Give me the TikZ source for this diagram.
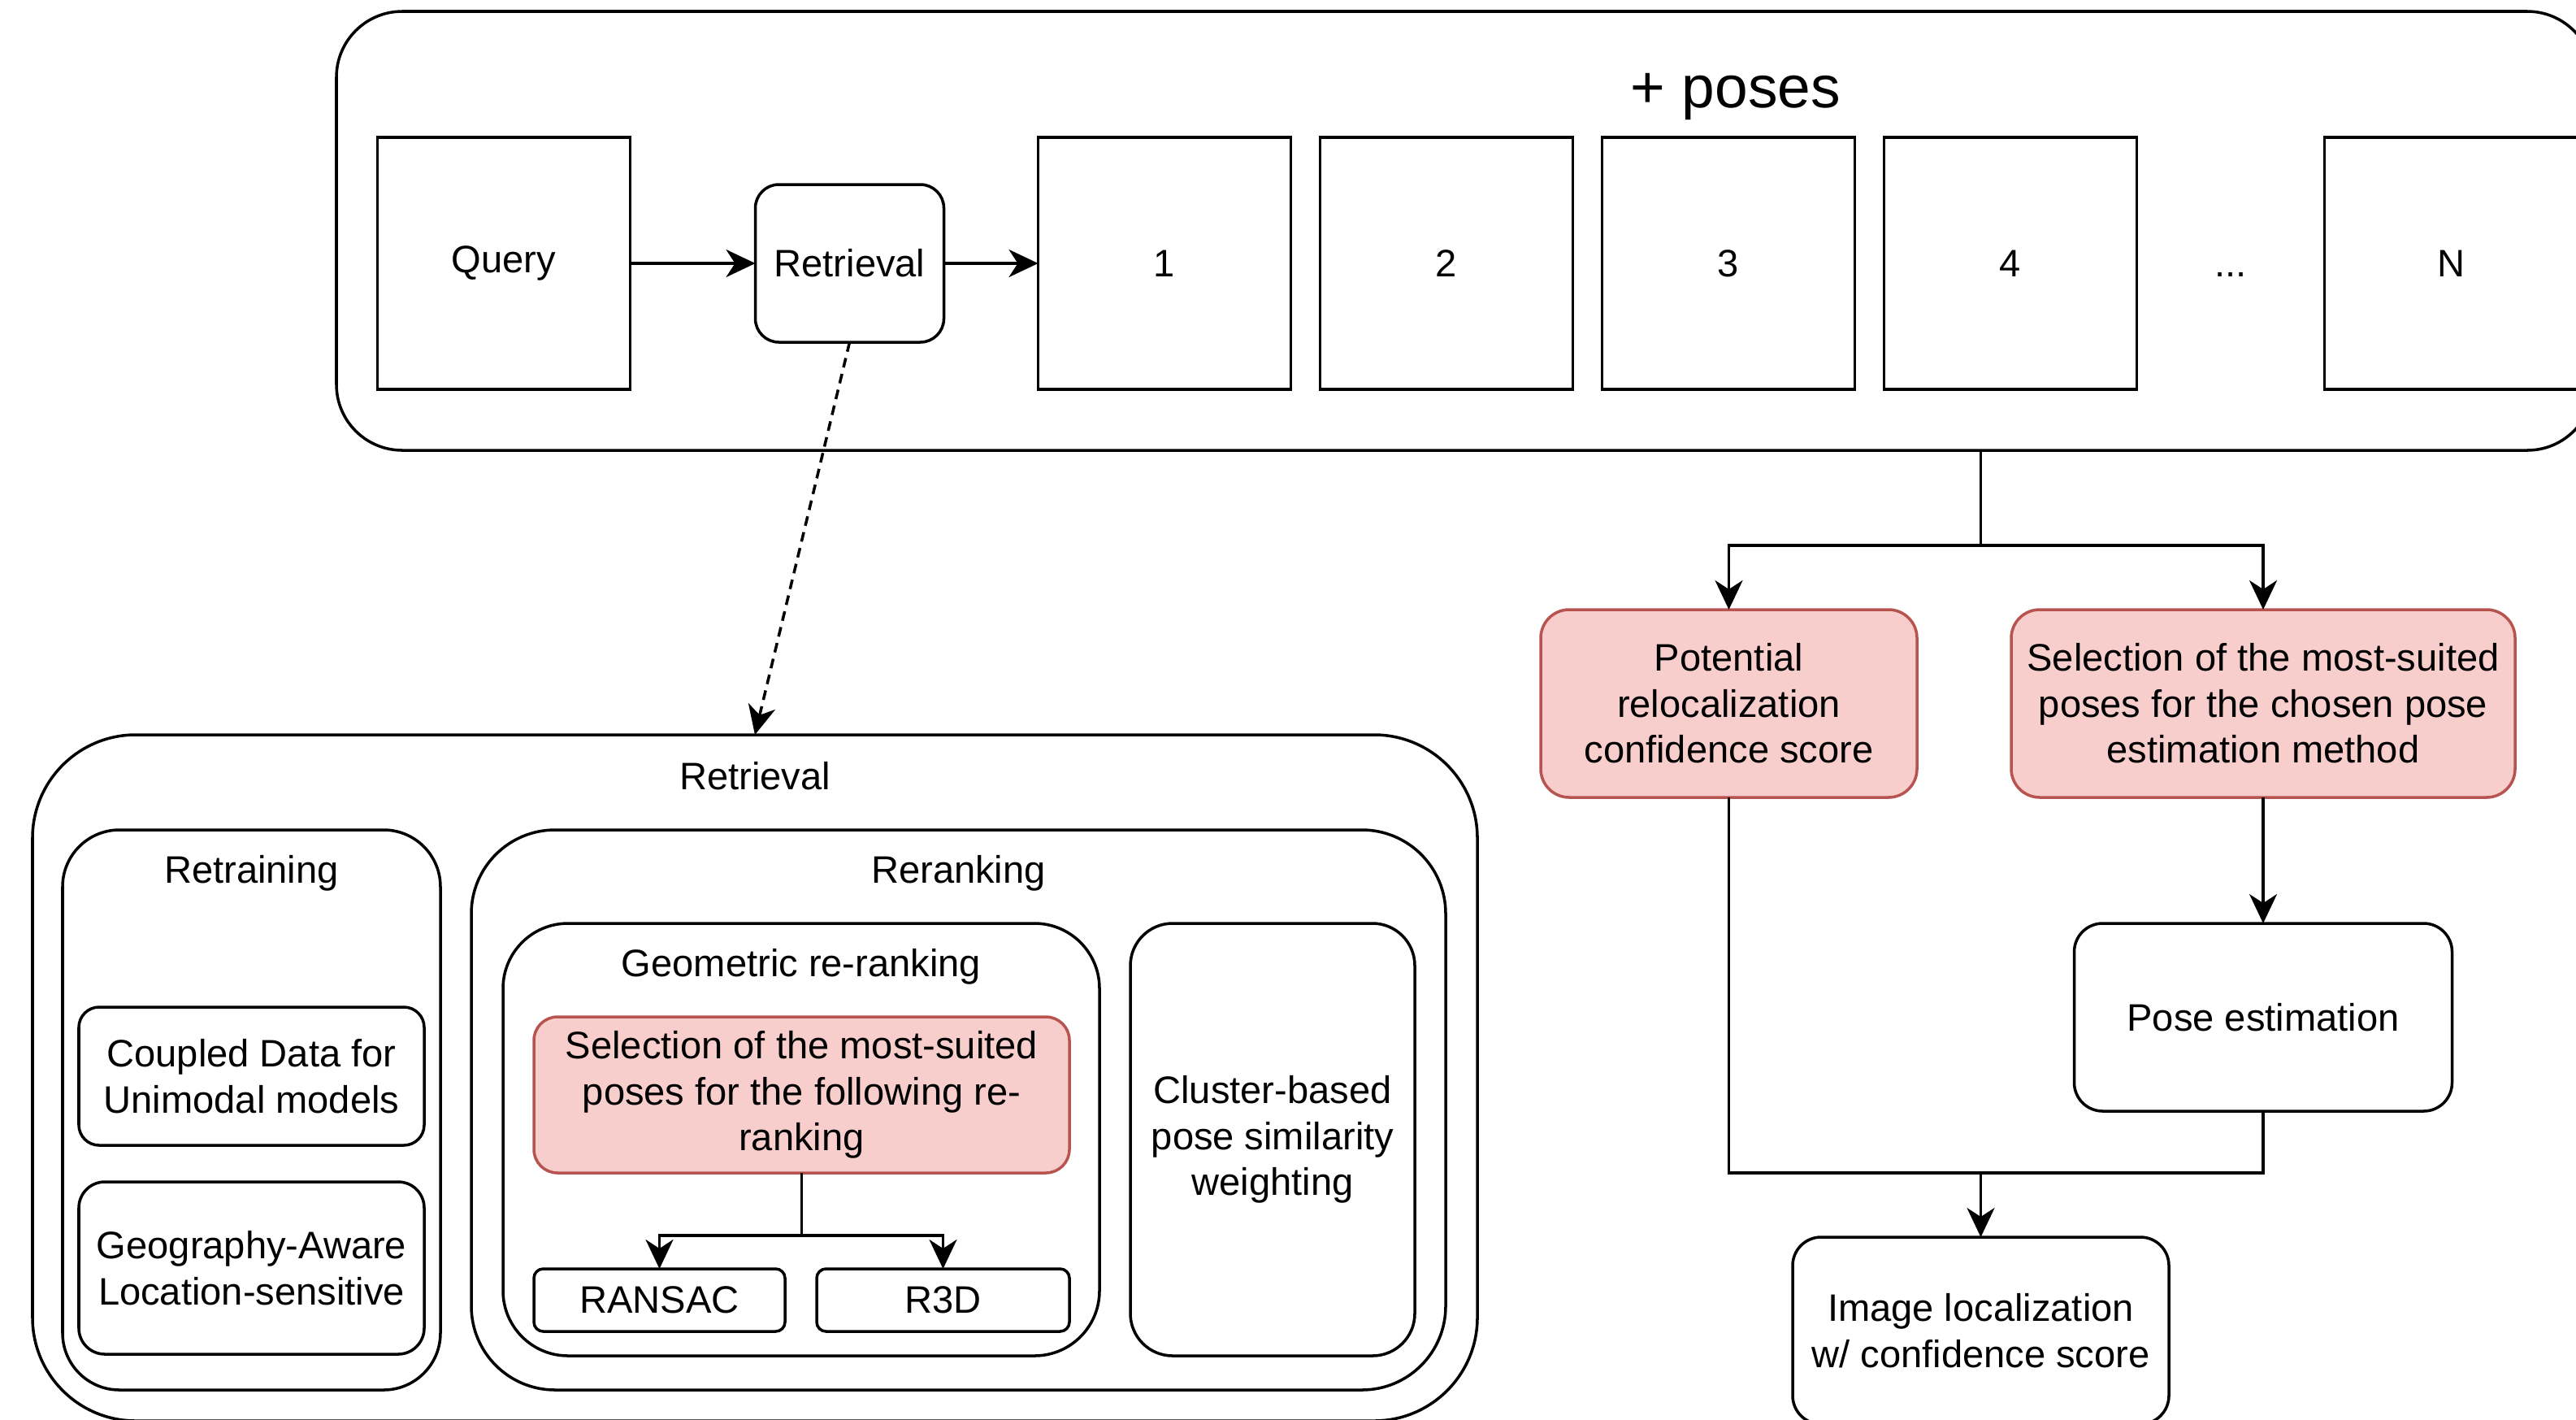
\documentclass[tikz,border=0pt]{standalone}
\usepackage{fontspec}
\setmainfont{Liberation Sans}
\usetikzlibrary{positioning,arrows.meta}
\definecolor{pinkfill}{HTML}{F8CECC}
\definecolor{pinkline}{HTML}{B85450}

\begin{document}
\begin{tikzpicture}[
every node/.style={font=\fontsize{13.4}{16.1}\selectfont},
box/.style={draw,rectangle,line width=1pt,inner sep=0pt,outer sep=0pt,align=center},
rbox/.style={box,rounded corners=#1},
cand/.style={box,minimum width=3.11cm,minimum height=3.10cm},
hl/.style={fill=pinkfill,draw=pinkline},
conn/.style={line width=1pt},
arr/.style={conn,-{Stealth[length=3.6mm,width=3.4mm,inset=1.1mm]}}]
\useasboundingbox (0,0) rectangle (31.70,-17.46);
\clip (0,0) rectangle (31.70,-17.46);

\node (posebox) [rbox=0.81cm,minimum width=27.77cm,minimum height=5.40cm] at (18.025,-2.84) {};
\node [anchor=base,font=\fontsize{20.8}{25}\selectfont] at (21.36,-1.32) {+ poses};
\node (query) [cand] at (6.20,-3.24) {Query};
\node (qret) [rbox=0.29cm,minimum width=2.32cm,minimum height=1.94cm,
    right=1.54cm of query] {Retrieval};
\node (c1) [cand,right=1.16cm of qret] {1};
\node (c2) [cand,right=0.36cm of c1] {2};
\node (c3) [cand,right=0.36cm of c2] {3};
\node (c4) [cand,right=0.36cm of c3] {4};
\node (cN) [cand,right=2.31cm of c4] {N};
\node (dots) [anchor=base] at (27.45,0 |- c4.base) {...};

\node (potential) [rbox=0.35cm,hl,minimum width=4.63cm,minimum height=2.31cm]
    at (21.275,-8.655) {Potential\\relocalization\\confidence score};
\node (selpose) [rbox=0.35cm,hl,minimum width=6.20cm,minimum height=2.31cm,
    right=1.16cm of potential] {Selection of the most-suited\\poses for the chosen pose\\estimation method};
\node (poseest) [rbox=0.35cm,minimum width=4.65cm,minimum height=2.31cm,
    below=1.55cm of selpose] {Pose estimation};
\node (imgloc) [rbox=0.35cm,minimum width=4.63cm,minimum height=2.30cm]
    at (24.375,-16.37) {Image localization\\w/ confidence score};

\node (retbox) [rbox=1.27cm,minimum width=17.78cm,minimum height=8.44cm] at (9.29,-13.26) {};
\node [anchor=base] at ([yshift=-0.67cm]retbox.north) {Retrieval};
\node (retrain) [rbox=0.70cm,minimum width=4.65cm,minimum height=6.89cm] at (3.095,-13.655) {};
\node [anchor=base] at ([yshift=-0.65cm]retrain.north) {Retraining};
\node (coupled) [rbox=0.25cm,minimum width=4.25cm,minimum height=1.70cm]
    at (3.095,-13.24) {Coupled Data for\\Unimodal models};
\node (geoaware) [rbox=0.32cm,minimum width=4.25cm,minimum height=2.12cm,
    below=0.45cm of coupled] {Geography-Aware\\Location-sensitive};
\node (rerank) [rbox=1.03cm,minimum width=11.99cm,minimum height=6.89cm,
    right=0.38cm of retrain] {};
\node [anchor=base] at ([yshift=-0.65cm]rerank.north) {Reranking};
\node (geom) [rbox=0.80cm,minimum width=7.34cm,minimum height=5.32cm] at (9.86,-14.02) {};
\node [anchor=base] at ([yshift=-0.65cm]geom.north) {Geometric re-ranking};
\node (selgeo) [rbox=0.29cm,hl,minimum width=6.59cm,minimum height=1.92cm]
    at (9.865,-13.47) {Selection of the most-suited\\poses for the following re-\\ranking};
\node (ransac) [rbox=0.115cm,minimum width=3.09cm,minimum height=0.77cm]
    at (8.115,-15.995) {RANSAC};
\node (r3d) [rbox=0.115cm,minimum width=3.11cm,minimum height=0.77cm,
    right=0.39cm of ransac] {R3D};
\node (cluster) [rbox=0.52cm,minimum width=3.50cm,minimum height=5.32cm,
    right=0.38cm of geom] {Cluster-based\\pose similarity\\weighting};

\draw[arr] (query) -- (qret);
\draw[arr] (qret) -- (c1);
\draw[arr,dash pattern=on 3.4pt off 2.3pt] (qret.south) -- (retbox.north);

\coordinate (split) at (imgloc.north |- 0,-6.71);
\draw[conn] (posebox.south -| split) -- (split);
\draw[arr] (split) -| (potential);
\draw[arr] (split) -| (selpose);
\draw[arr] (selpose) -- (poseest);
\coordinate (merge) at (imgloc.north |- 0,-14.43);
\draw[conn] (potential) |- (merge);
\draw[conn] (poseest) |- (merge);
\draw[arr] (merge) -- (imgloc);

\coordinate (fork) at (selgeo.south |- 0,-15.20);
\draw[conn] (selgeo) -- (fork);
\draw[arr] (fork) -| (ransac);
\draw[arr] (fork) -| (r3d);
\end{tikzpicture}
\end{document}
